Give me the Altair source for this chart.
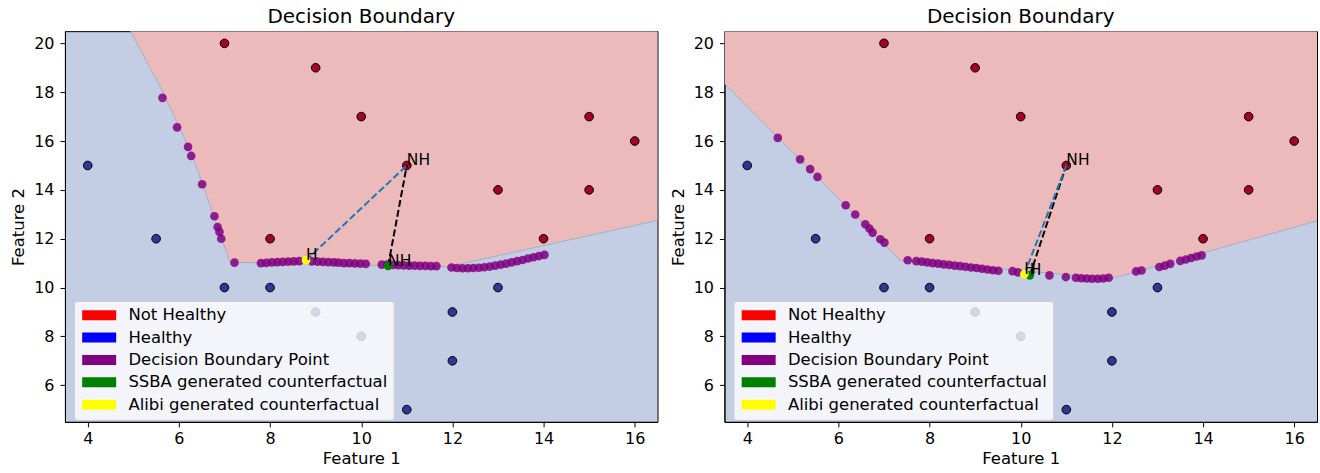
import altair as alt
import pandas as pd

X_DOMAIN = [3.5, 16.5]
Y_DOMAIN = [4.5, 20.5]
X_TICKS = [4, 6, 8, 10, 12, 14, 16]
Y_TICKS = [6, 8, 10, 12, 14, 16, 18, 20]

# Training points (same in both panels)
not_healthy_x = [7, 9, 10, 11, 13, 15, 15, 16, 8, 14]
not_healthy_y = [20, 19, 17, 15, 14, 14, 17, 16, 12, 12]
healthy_x = [4, 5.5, 7, 8, 13, 12, 12, 11, 9, 10]
healthy_y = [15, 12, 10, 10, 10, 9, 7, 5, 9, 8]

# Left panel: decision region border and boundary points
left_region_x = [4.94, 5.65, 6.30, 6.75, 7.12, 11.90, 16.50]
left_region_y = [20.50, 18.00, 15.40, 13.00, 11.04, 10.85, 12.75]
left_db_x = [5.64, 5.96, 6.20, 6.27, 6.51, 6.78, 6.85, 6.89, 6.93, 7.22,
             7.80, 7.92, 8.04, 8.16, 8.28, 8.40, 8.52, 8.64,
             8.92, 9.04, 9.16, 9.28, 9.40, 9.50,
             9.62, 9.74, 9.86, 9.98, 10.10,
             10.45, 10.57, 10.69, 10.81, 10.93, 11.05, 11.17, 11.29, 11.41, 11.53, 11.65,
             11.98, 12.10, 12.22, 12.34, 12.46, 12.58, 12.70, 12.82, 12.94, 13.06,
             13.18, 13.30, 13.42, 13.54, 13.66, 13.78, 13.90, 14.02]
left_db_y = [17.77, 16.56, 15.76, 15.39, 14.23, 12.92, 12.48, 12.28, 12.00, 11.02,
             11.00, 11.01, 11.03, 11.04, 11.05, 11.06, 11.07, 11.08,
             11.07, 11.06, 11.05, 11.04, 11.03, 11.02,
             11.00, 11.00, 10.99, 10.98, 10.97,
             10.94, 10.94, 10.93, 10.92, 10.91, 10.90, 10.90, 10.89, 10.89, 10.88, 10.88,
             10.82, 10.80, 10.79, 10.79, 10.80, 10.81, 10.83, 10.86, 10.90, 10.94,
             10.98, 11.03, 11.08, 11.13, 11.19, 11.24, 11.29, 11.34]
left_ssba = (10.59, 10.89, "NH")
left_alibi = (8.79, 11.12, "H")

# Right panel
right_region_x = [3.50, 7.35, 12.00, 16.50]
right_region_y = [18.35, 11.12, 10.37, 12.73]
right_db_x = [4.67, 5.16, 5.38, 5.54, 6.16, 6.37, 6.59, 6.68, 6.75, 6.92, 7.01,
              7.52, 7.71, 7.83, 7.95, 8.07, 8.19, 8.31, 8.43, 8.55, 8.67, 8.79, 8.91,
              9.03, 9.15, 9.27, 9.39, 9.51, 9.82, 9.94, 10.63, 10.99,
              11.21, 11.33, 11.45, 11.57, 11.69, 11.81, 11.93,
              12.53, 12.65, 13.04, 13.16, 13.28, 13.50, 13.62, 13.74, 13.86, 13.97]
right_db_y = [16.13, 15.25, 14.85, 14.53, 13.37, 12.99, 12.59, 12.42, 12.25, 11.98, 11.84,
              11.12, 11.08, 11.06, 11.03, 11.00, 10.98, 10.95, 10.93, 10.90, 10.88, 10.85, 10.82,
              10.80, 10.77, 10.74, 10.71, 10.69, 10.67, 10.62, 10.50, 10.43,
              10.40, 10.38, 10.37, 10.36, 10.36, 10.37, 10.40,
              10.66, 10.70, 10.84, 10.90, 10.97, 11.09, 11.15, 11.21, 11.27, 11.32]
right_ssba = (10.20, 10.50, "H")
right_alibi = (10.08, 10.55, "H")

query_point = (11, 15, "NH")

legend_labels = ["Not Healthy", "Healthy", "Decision Boundary Point",
                 "SSBA generated counterfactual", "Alibi generated counterfactual"]
legend_colors = ["#ff0000", "#0000ff", "#800080", "#008000", "#ffff00"]

FONT = "DejaVu Sans"
# wide rectangle patch (34 x 10 px at symbol size 196)
RECT_PATH = "M-2.4286,-0.7143H2.4286V0.7143H-2.4286Z"


def xenc():
    return alt.X("x:Q", scale=alt.Scale(domain=X_DOMAIN, nice=False, zero=False),
                 axis=alt.Axis(values=X_TICKS, title="Feature 1", grid=False, format="d",
                               tickSize=5, labelPadding=4, titlePadding=4))


def yenc():
    return alt.Y("y:Q", scale=alt.Scale(domain=Y_DOMAIN, nice=False, zero=False),
                 axis=alt.Axis(values=Y_TICKS, title="Feature 2", grid=False, format="d",
                               tickSize=5, labelPadding=6, titlePadding=7))


def panel(region_x, region_y, db_x, db_y, ssba, alibi):
    region = pd.DataFrame({"x": region_x, "y": region_y, "top": Y_DOMAIN[1]})
    area = alt.Chart(region).mark_area(color="#ecbabb", opacity=1, clip=True).encode(
        x=xenc(), y=yenc(), y2="top:Q")
    border = alt.Chart(region).mark_line(color="#9fb1c6", strokeWidth=1, clip=True).encode(
        x=xenc(), y=yenc())

    red = alt.Chart(pd.DataFrame({"x": not_healthy_x, "y": not_healthy_y})).mark_circle(
        color="#a50026", stroke="black", strokeWidth=1, size=75, opacity=1).encode(x=xenc(), y=yenc())
    blue = alt.Chart(pd.DataFrame({"x": healthy_x, "y": healthy_y})).mark_circle(
        color="#313695", stroke="black", strokeWidth=1, size=75, opacity=1).encode(x=xenc(), y=yenc())
    purple = alt.Chart(pd.DataFrame({"x": db_x, "y": db_y})).mark_circle(
        color="#800080", size=75, opacity=0.85).encode(x=xenc(), y=yenc())

    black_seg = pd.DataFrame({"x": [query_point[0], ssba[0]], "y": [query_point[1], ssba[1]]})
    blue_seg = pd.DataFrame({"x": [query_point[0], alibi[0]], "y": [query_point[1], alibi[1]]})
    black_line = alt.Chart(black_seg).mark_line(color="black", strokeDash=[7, 3], strokeWidth=2).encode(
        x=xenc(), y=yenc())
    blue_line = alt.Chart(blue_seg).mark_line(color="#1f77b4", strokeDash=[7, 3], strokeWidth=2).encode(
        x=xenc(), y=yenc())

    cf = pd.DataFrame({"x": [ssba[0], alibi[0]], "y": [ssba[1], alibi[1]],
                       "kind": [legend_labels[3], legend_labels[4]]})
    cf_points = alt.Chart(cf).mark_circle(size=75, opacity=1).encode(
        x=xenc(), y=yenc(),
        color=alt.Color("kind:N", scale=alt.Scale(domain=legend_labels, range=legend_colors),
                        legend=alt.Legend(title=None, symbolType=RECT_PATH, symbolSize=196,
                                          symbolOpacity=1, symbolStrokeWidth=0)))

    labels = pd.DataFrame({"x": [query_point[0], ssba[0], alibi[0]],
                           "y": [query_point[1], ssba[1], alibi[1]],
                           "t": [query_point[2], ssba[2], alibi[2]]})
    text = alt.Chart(labels).mark_text(align="left", baseline="alphabetic", fontSize=15.5,
                                       font=FONT, color="black").encode(x=xenc(), y=yenc(), text="t:N")

    return alt.layer(area, border, red, blue, purple, black_line, blue_line, cf_points, text).properties(
        width=593, height=391,
        title=alt.TitleParams("Decision Boundary", fontSize=20, font=FONT, fontWeight="normal",
                              color="black", offset=4))


left = panel(left_region_x, left_region_y, left_db_x, left_db_y, left_ssba, left_alibi)
right = panel(right_region_x, right_region_y, right_db_x, right_db_y, right_ssba, right_alibi)

chart = alt.hconcat(left, right, spacing=67, bounds="flush").resolve_scale(
    color="independent").resolve_legend(color="independent").properties(
    padding={"left": 10, "top": 6, "right": 2, "bottom": 3}
).configure_view(stroke="black", strokeWidth=1, fill="#c3cde4").configure_axis(
    labelFont=FONT, titleFont=FONT, labelFontSize=16, titleFontSize=16.5, titleFontWeight="normal",
    domainColor="black", tickColor="black", labelColor="black", titleColor="black"
).configure_legend(
    orient="none", legendX=9, legendY=270, padding=6, rowPadding=5.4,
    fillColor="rgba(255,255,255,0.8)", strokeColor="#cccccc", cornerRadius=3,
    labelFontSize=16.5, labelFont=FONT, labelColor="black", labelOffset=21,
    symbolOffset=11, labelLimit=400
)

chart.save("out.html", embed_options={"renderer": "svg", "actions": False})
